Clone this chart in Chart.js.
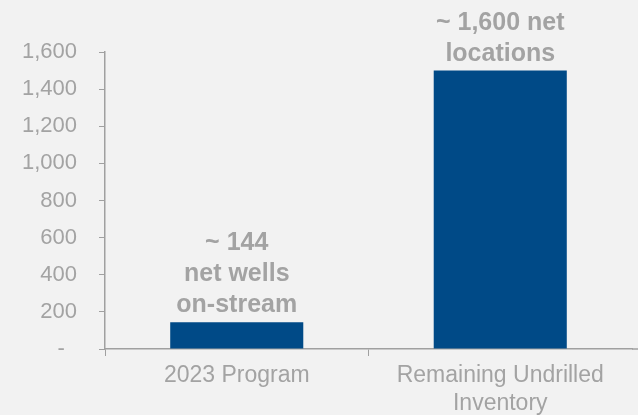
<!DOCTYPE html>
<html>
<head>
<meta charset="utf-8">
<script src="https://cdn.jsdelivr.net/npm/chart.js@4/dist/chart.umd.min.js"></script>
<style>
  html, body { margin: 0; padding: 0; background: #f2f2f2; overflow: hidden; width: 638px; height: 415px; }
  canvas { display: block; background: #f2f2f2; }
</style>
</head>
<body>
<canvas id="c" width="638" height="432"></canvas>
<script>
const categories = [["2023 Program"], ["Remaining Undrilled", "Inventory"]];
const values = [144, 1500];
const barLabels = [["~ 144", "net wells", "on-stream"], ["~ 1,600 net", "locations"]];
const yTickMin = 0, yTickMax = 1600, yTickStep = 200;

const gray = '#a3a3a3';
const lineGray = '#a0a0a0';
const barColor = '#004a87';
const fontFamily = "'Liberation Sans', Arial, sans-serif";

const barLabelPlugin = {
  id: 'barLabels',
  afterDatasetsDraw(chart) {
    const ctx = chart.ctx;
    const meta = chart.getDatasetMeta(0);
    ctx.save();
    ctx.fillStyle = gray;
    ctx.font = "bold 25px " + fontFamily;
    ctx.textAlign = 'center';
    ctx.textBaseline = 'alphabetic';
    meta.data.forEach((bar, i) => {
      const lines = barLabels[i];
      const lh = 31;
      let yb = bar.y - 10;
      for (let k = lines.length - 1; k >= 0; k--) {
        ctx.fillText(lines[k], bar.x, yb);
        yb -= lh;
      }
    });
    ctx.restore();
  },
  afterDraw(chart) {
    const ctx = chart.ctx;
    const a = chart.chartArea;
    ctx.save();
    ctx.strokeStyle = lineGray;
    ctx.lineWidth = 1.5;
    ctx.beginPath();
    ctx.moveTo(a.right, a.bottom);
    ctx.lineTo(chart.width, a.bottom);
    ctx.stroke();
    ctx.restore();
  }
};

new Chart(document.getElementById('c'), {
  type: 'bar',
  data: {
    labels: categories,
    datasets: [{
      data: values,
      backgroundColor: barColor,
      borderWidth: 0,
      categoryPercentage: 1.0,
      barPercentage: 0.505
    }]
  },
  options: {
    responsive: false,
    animation: false,
    devicePixelRatio: 1,
    layout: { padding: { top: 52, right: 6, left: 0, bottom: 0 } },
    plugins: { legend: { display: false }, tooltip: { enabled: false } },
    scales: {
      x: {
        afterFit(scale) { scale.height = 83; },
        grid: {
          display: true,
          drawOnChartArea: false,
          drawTicks: true,
          tickLength: 7,
          offset: true,
          tickColor: (c) => (c.type !== 'tick' ? 'rgba(0,0,0,0)' : lineGray),
          color: lineGray
        },
        border: { display: true, color: lineGray, width: 1.5 },
        ticks: {
          color: gray,
          font: { family: fontFamily, size: 23, lineHeight: 1.25 },
          padding: 5,
          maxRotation: 0,
          autoSkip: false
        }
      },
      y: {
        min: yTickMin,
        max: yTickMax,
        afterFit(scale) { scale.width = 105; },
        grid: {
          display: true,
          drawOnChartArea: false,
          drawTicks: true,
          tickLength: 6,
          color: lineGray
        },
        border: { display: true, color: lineGray, width: 1.5 },
        ticks: {
          stepSize: yTickStep,
          color: gray,
          font: { family: fontFamily, size: 22 },
          padding: 22,
          callback: (v) => (v === 0 ? '-  ' : v.toLocaleString('en-US'))
        }
      }
    }
  },
  plugins: [barLabelPlugin]
});
</script>
</body>
</html>
